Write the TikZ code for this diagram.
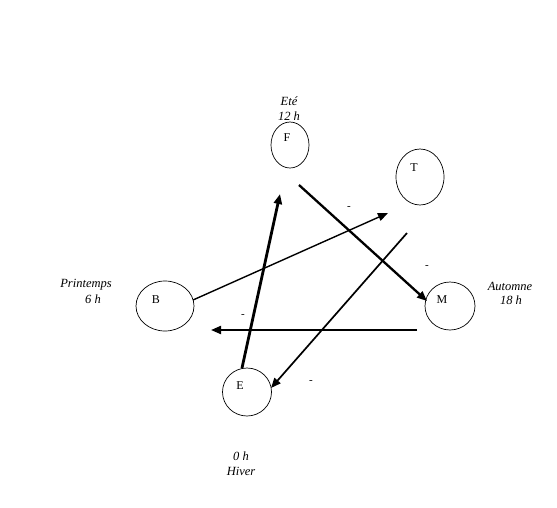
\documentclass[tikz,border=0pt]{standalone}
\usepackage{fontspec}
\setmainfont{Liberation Serif}
\usetikzlibrary{shapes.geometric,arrows.meta}
\begin{document}
\begin{tikzpicture}[x=1pt,y=-1pt,
  circ/.style={draw,ellipse,line width=0.7pt,inner sep=0pt},
  lab/.style={font=\fontsize{12.5}{14}\selectfont\itshape,align=center,inner sep=0pt},
  let/.style={font=\fontsize{12}{14}\selectfont},
  dsh/.style={font=\fontsize{11}{12}\selectfont,inner sep=0pt},
  arr/.style={-{Triangle[length=10pt,width=8pt]}}]
\useasboundingbox (0,0) rectangle (557,507);
% ellipses
\node[circ,minimum width=38pt,minimum height=46pt,label={[let,xshift=-3pt,yshift=7pt]center:F}] (F) at (290,145) {};
\node[circ,minimum width=48pt,minimum height=56pt,label={[let,xshift=-6pt,yshift=9pt]center:T}] (T) at (420,177) {};
\node[circ,minimum width=58pt,minimum height=50pt,label={[let,xshift=-9pt,yshift=6pt]center:B}] (B) at (165,306) {};
\node[circ,minimum width=50pt,minimum height=48pt,label={[let,xshift=-8pt,yshift=6pt]center:M}] (M) at (450,306) {};
\node[circ,minimum width=49pt,minimum height=48pt,label={[let,xshift=-7pt,yshift=6pt]center:E}] (E) at (247,392) {};
% labels
\node[lab] (ete) at (289,101) {Eté};
\node[lab] (h12) at (289,116) {12 h};
\node[lab] (pri) at (86,285) {Printemps};
\node[lab] (h6) at (93,299) {6 h};
\node[lab] (aut) at (510,286) {Automne};
\node[lab] (h18) at (511,300) {18 h};
\node[lab] (h0) at (241,456) {0 h};
\node[lab] (hiv) at (241,471) {Hiver};
% dashes
\node[dsh] (d1) at (349,208) {-};
\node[dsh] (d2) at (427,267) {-};
\node[dsh] (d3) at (243,316) {-};
\node[dsh] (d4) at (311,382) {-};
% coordinates
\coordinate (a1s) at (242,368);
\coordinate (a1e) at (280,194);
\coordinate (a2s) at (193,300);
\coordinate (a2e) at (388,213);
\coordinate (a3s) at (299,185);
\coordinate (a3e) at (427,301);
\coordinate (a4s) at (407,233);
\coordinate (a4e) at (271,388);
\coordinate (a5s) at (417,330);
\coordinate (a5e) at (211,330);
% arrows
\draw[arr,line width=2.8pt] (a1s) -- (a1e);
\draw[arr,line width=1.4pt] (a2s) -- (a2e);
\draw[arr,line width=2.3pt] (a3s) -- (a3e);
\draw[arr,line width=1.7pt] (a4s) -- (a4e);
\draw[arr,line width=2.0pt] (a5s) -- (a5e);
\end{tikzpicture}
\end{document}
